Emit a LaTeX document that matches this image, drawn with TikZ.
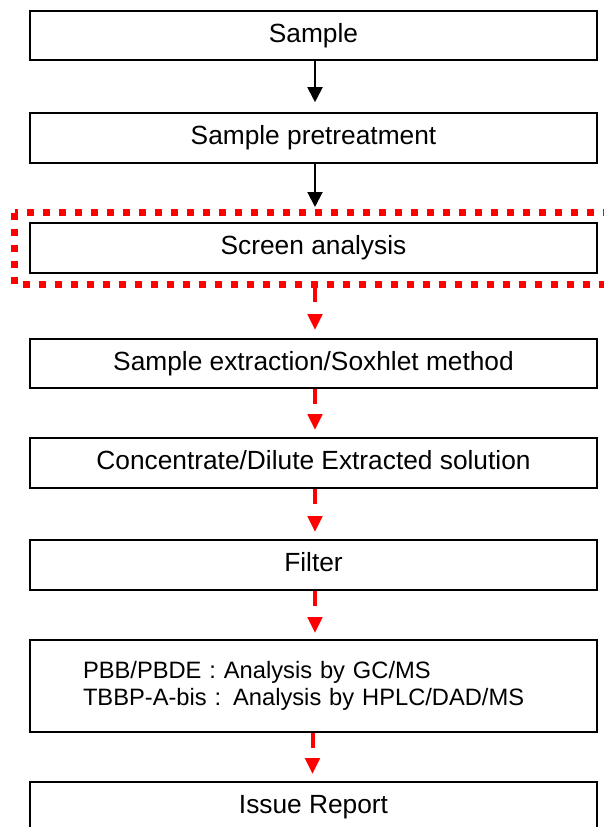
\documentclass[tikz,border=0pt]{standalone}
\usepackage{fontspec}
\setmainfont{Liberation Sans}
\usetikzlibrary{arrows.meta}
\begin{document}
\begin{tikzpicture}[x=1pt,y=-1pt,
  stepbox/.style={draw=black, line width=1.6pt, minimum width=567pt, minimum height=50pt,
    inner sep=0pt, font=\fontsize{26.3}{31}\selectfont, text height=19.2pt, text depth=5.5pt},
  blackarrow/.style={draw=black, line width=2pt, -{Triangle[length=15pt,width=15pt]}},
  redarrow/.style={draw=red, line width=4pt, dash pattern=on 15pt off 60pt,
    -{Triangle[length=16pt,width=14pt]}},
  screenframe/.style={draw=red, line width=7pt, dash pattern=on 7pt off 9pt},
]
\useasboundingbox (0,0) rectangle (604,827);

\node[stepbox, minimum height=49pt] (sample) at (313.5,35.5) {Sample};
\node[stepbox] (pretreat) at (313.5,138) {Sample pretreatment};
\node[stepbox] (screen) at (313.5,248) {Screen analysis};
\node[stepbox, minimum height=49pt] (extract) at (313.5,363.5) {Sample extraction/Soxhlet method};
\node[stepbox] (conc) at (313.5,463) {Concentrate/Dilute Extracted solution};
\node[stepbox] (filter) at (313.5,565) {Filter};
\node[stepbox, minimum height=92pt, text height=, text depth=, align=left, text width=567pt,
  font=\fontsize{23.7}{27.3}\selectfont] (analysis) at (313.5,686)
  {\hspace*{53pt}PBB/PBDE : Analysis by GC/MS\\ \hspace*{53pt}TBBP-A-bis : Analysis by HPLC/DAD/MS};
\node[stepbox] (report) at (313.5,807) {Issue Report};

% screening frame
\coordinate (frameTL) at (14.5,212.5);
\coordinate (frameBR) at (640,284.5);
\draw[screenframe] (frameTL) rectangle (frameBR);

\coordinate (ax) at (315,0);
\coordinate (frametop) at (315,212.5);
\coordinate (framebot) at (315,284.5);

% black arrows
\draw[blackarrow, shorten >=10pt] (ax |- sample.south) -- (ax |- pretreat.north);
\draw[blackarrow, shorten >=5.5pt] (ax |- pretreat.south) -- (frametop);

% red dashed arrows
\draw[redarrow, dash pattern=on 17.5pt off 60pt, shorten >=8pt] (framebot) -- (ax |- extract.north);
\draw[redarrow, shorten >=7pt] (ax |- extract.south) -- (ax |- conc.north);
\draw[redarrow, shorten >=7pt] (ax |- conc.south) -- (ax |- filter.north);
\draw[redarrow, shorten >=6pt] (ax |- filter.south) -- (ax |- analysis.north);
\coordinate (ax2) at (312.5,0);
\draw[redarrow, shorten >=7pt] (ax2 |- analysis.south) -- (ax2 |- report.north);
\end{tikzpicture}
\end{document}
